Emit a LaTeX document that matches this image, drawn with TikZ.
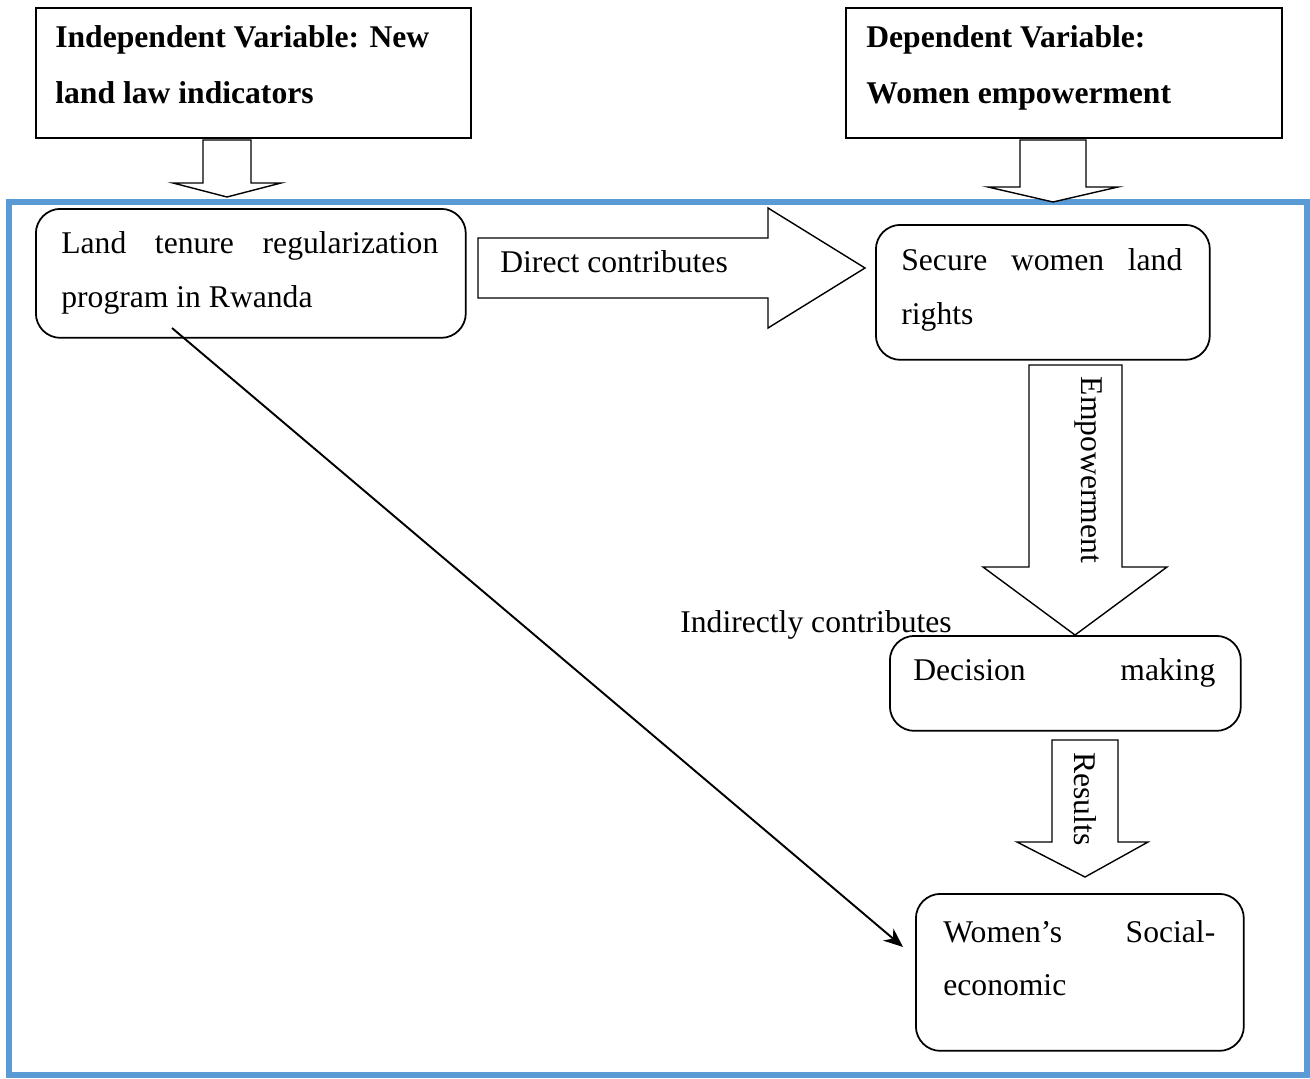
\documentclass[tikz,border=0pt]{standalone}
\usepackage{fontspec}
\setmainfont{Liberation Serif}
\usetikzlibrary{arrows.meta}

\definecolor{frameblue}{HTML}{5B9BD5}

\tikzset{
  sqbox/.style={draw, line width=1pt, inner sep=0, anchor=north west},
  rbox/.style={draw, line width=1pt, rounded corners=14pt, inner sep=0, anchor=north west},
  txt/.style={inner sep=0, anchor=base west, font=\fontsize{18}{21}\selectfont},
  btxt/.style={txt, font=\fontsize{18}{21}\selectfont\bfseries},
  blockarrow/.style={draw, line width=0.8pt, fill=white, line join=miter}
}

\begin{document}
\begin{tikzpicture}[x=0.02cm, y=-0.02cm]
 \useasboundingbox (0,0) rectangle (1310,1078);

 % outer frame
 \draw[frameblue, line width=3.2pt] (9,202) rectangle (1307,1075);

 % variable boxes
 \node[sqbox, minimum width=8.7cm, minimum height=2.6cm] (indep) at (35,7) {};
 \node[sqbox, minimum width=8.72cm, minimum height=2.6cm] (dep) at (845,7) {};
 \node[btxt] (indep1) at (55,48) {Independent Variable: New};
 \node[btxt] (indep2) at (55,103) {land law indicators};
 \node[btxt] (dep1) at (866,48) {Dependent Variable:};
 \node[btxt] (dep2) at (866,103) {Women empowerment};

 % small arrows into the frame
 \draw[blockarrow] (203,140) -- (251,140) -- (251,183) -- (281,183) -- (227,197)
   -- (173,183) -- (203,183) -- cycle;
 \draw[blockarrow] (1020,140) -- (1086,140) -- (1086,187) -- (1118,187) -- (1053,202)
   -- (988,187) -- (1020,187) -- cycle;

 % concept boxes
 \node[rbox, minimum width=8.6cm, minimum height=2.58cm] (tenure) at (35,208) {};
 \node[txt] (tenure1) at (61,253) {\makebox[7.54cm][s]{Land tenure regularization}};
 \node[txt] (tenure2) at (61,307) {program in Rwanda};

 \node[rbox, minimum width=6.68cm, minimum height=2.7cm] (secure) at (875,224) {};
 \node[txt] (secure1) at (901,270) {\makebox[5.62cm][s]{Secure women land}};
 \node[txt] (secure2) at (901,324) {rights};

 \node[rbox, minimum width=7.02cm, minimum height=1.9cm] (decision) at (889,635) {};
 \node[txt] (decision1) at (913,680) {\makebox[6.04cm][s]{Decision making}};

 \node[rbox, minimum width=6.56cm, minimum height=3.14cm] (women) at (915,893) {};
 \node[txt] (women1) at (943,942) {\makebox[5.44cm][s]{Women’s Social-}};
 \node[txt] (women2) at (943,995) {economic};

 % direct contribution
 \draw[blockarrow] (478,238) -- (768,238) -- (768,208) -- (865,268) -- (768,328)
   -- (768,298) -- (478,298) -- cycle;
 \node[txt] (direct) at (500,272) {Direct contributes};

 % empowerment
 \draw[blockarrow] (1029,365) -- (1122,365) -- (1122,567) -- (1167,567) -- (1075,635)
   -- (983,567) -- (1029,567) -- cycle;
 \node[txt, anchor=center, rotate=-90] (empower) at (1088,470) {Empowerment};

 % results
 \draw[blockarrow] (1052,740) -- (1118,740) -- (1118,842) -- (1148,842) -- (1085,877)
   -- (1017,842) -- (1052,842) -- cycle;
 \node[txt, anchor=center, rotate=-90] (results) at (1085,799) {Results};

 % indirect contribution
 \node[txt] (indirect) at (680,632) {Indirectly contributes};
 \coordinate (diagstart) at (172,328);
 \coordinate (diagend) at (903,947);
 \draw[line width=1.1pt, -{Stealth[length=11pt, width=9pt]}] (diagstart) -- (diagend);

\end{tikzpicture}
\end{document}
